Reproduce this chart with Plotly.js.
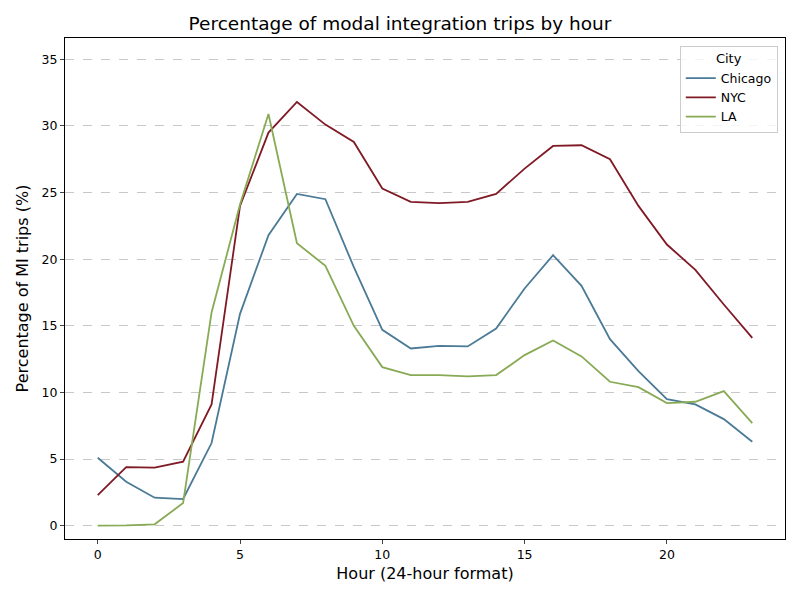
<!DOCTYPE html>
<html>
<head>
<script src="https://cdn.plot.ly/plotly-3.0.1.min.js"></script>
<style>body{margin:0}</style>
</head>
<body>
<div id="plot" style="width:800px;height:600px"></div>
<script>
// hours 0..23
const hours = [0,1,2,3,4,5,6,7,8,9,10,11,12,13,14,15,16,17,18,19,20,21,22,23];
const chicago = [5.1,3.3,2.1,2.0,6.2,15.9,21.8,24.9,24.5,19.4,14.7,13.3,13.5,13.45,14.8,17.8,20.3,18.0,14.0,11.6,9.5,9.1,8.0,6.3];
const nyc = [2.3,4.4,4.35,4.8,9.1,24.0,29.5,31.8,30.1,28.8,25.3,24.3,24.2,24.3,24.9,26.8,28.5,28.55,27.5,24.0,21.1,19.2,16.6,14.1];
const la = [0,0.02,0.1,1.7,16.0,24.1,30.9,21.2,19.5,15.0,11.9,11.3,11.3,11.2,11.3,12.8,13.9,12.7,10.8,10.4,9.2,9.3,10.1,7.7];

const series = [
    {name: 'Chicago', y: chicago, color: '#4a7a96'},
    {name: 'NYC', y: nyc, color: '#7f1a25'},
    {name: 'LA', y: la, color: '#88aa55'}
];

const data = series.map(s => ({
    x: hours, y: s.y, name: s.name, mode: 'lines', type: 'scatter',
    line: {color: s.color, width: 1.8}
}));

const layout = {
    width: 800, height: 600,
    margin: {l: 65, r: 15, t: 38, b: 61},
    font: {family: 'DejaVu Sans', size: 12.5, color: '#000'},
    title: {text: 'Percentage of modal integration trips by hour', font: {size: 18.5}, x: 0.5, xanchor: 'center', y: 0.96, yanchor: 'middle'},
    paper_bgcolor: '#fff', plot_bgcolor: '#fff',
    xaxis: {
        title: {text: 'Hour (24-hour format)', font: {size: 16}, standoff: 6},
        range: [-1.15, 24.15], tickvals: [0,5,10,15,20], showgrid: false, zeroline: false,
        showline: true, mirror: true, linecolor: '#000', ticks: 'outside', ticklen: 4, automargin: false
    },
    yaxis: {
        title: {text: 'Percentage of MI trips (%)', font: {size: 16}, standoff: 8},
        range: [-1, 36.6], tickvals: [0,5,10,15,20,25,30,35], zeroline: false,
        showgrid: true, gridcolor: '#c8c8c8', griddash: 'dash',
        showline: true, mirror: true, linecolor: '#000', ticks: 'outside', ticklen: 4
    },
    legend: {
        title: {text: 'City', side: 'top center', font: {size: 13}}, x: 0.99, y: 0.985, xanchor: 'right', yanchor: 'top',
        bordercolor: '#ccc', borderwidth: 1, bgcolor: 'rgba(255,255,255,0.8)'
    },
    showlegend: true
};

Plotly.newPlot('plot', data, layout, {displayModeBar: false});
</script>
</body>
</html>
